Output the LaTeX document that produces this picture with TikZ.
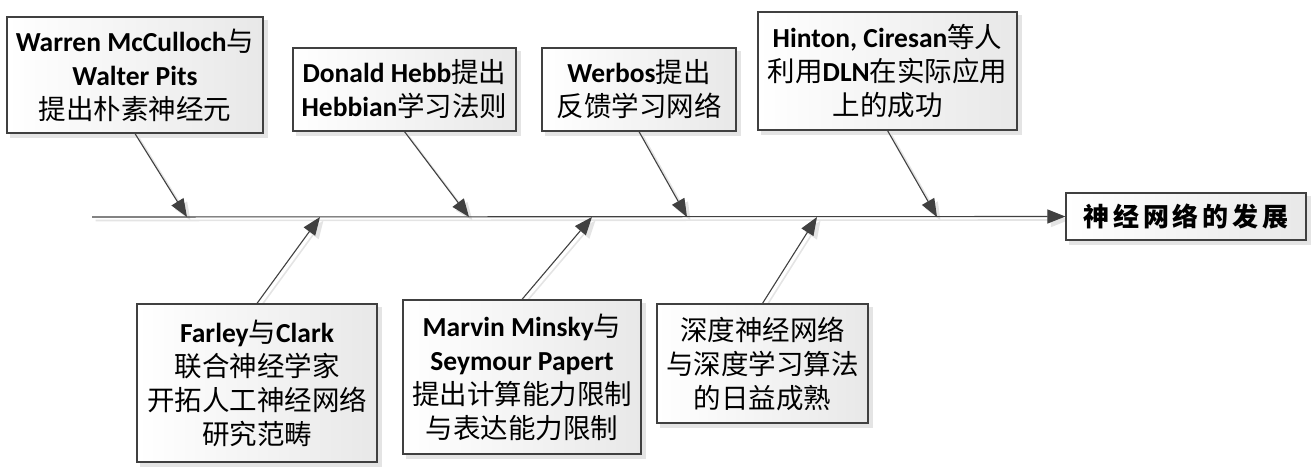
\documentclass[tikz,border=0pt]{standalone}
\usepackage{fontspec}
\setmainfont{Carlito}
\newfontfamily\cjk{Noto Sans CJK SC}
\usetikzlibrary{arrows.meta}
\definecolor{linec}{HTML}{404040}
\definecolor{shadowc}{HTML}{E4E4E4}
\newcommand\EN[1]{{\bfseries #1}}
\newcommand\ZH[1]{{\cjk #1}}
\pgfdeclarelayer{background}
\pgfsetlayers{background,main}
\tikzset{
  box/.style={draw=linec, line width=1.2pt, inner sep=0pt, align=center,
    font=\fontsize{27.5}{34}\selectfont, left color=white, right color=black!9, text=black},
  conn/.style={draw=linec, line width=1.1pt, -{Triangle[length=18pt,width=14pt]}},
  shconn/.style={draw=shadowc, line width=1.6pt, -{Triangle[length=18pt,width=14pt]}, transform canvas={xshift=3.5pt,yshift=-3.5pt}},
  shbox/.style={fill=shadowc, draw=none, transform canvas={xshift=4pt,yshift=-4pt}}
}
\begin{document}
\begin{tikzpicture}[x=1pt,y=-1pt]
\useasboundingbox (0,0) rectangle (1311,471);
% boxes
\node[box, minimum width=256pt, minimum height=116pt] (A) at (135,75)
  {\EN{Warren McCulloch}\ZH{与}\\\EN{Walter Pits}\\\ZH{提出朴素神经元}};
\node[box, minimum width=223pt, minimum height=83pt] (B) at (404.5,89.5)
  {\EN{Donald Hebb}\ZH{提出}\\\EN{Hebbian}\ZH{学习法则}};
\node[box, minimum width=194pt, minimum height=83pt] (C) at (639,89.5)
  {\EN{Werbos}\ZH{提出}\\\ZH{反馈学习网络}};
\node[box, minimum width=259pt, minimum height=118pt] (D) at (887.5,71)
  {\EN{Hinton, Ciresan}\ZH{等人}\\\ZH{利用}\EN{DLN}\ZH{在实际应用}\\\ZH{上的成功}};
\node[box, minimum width=240pt, minimum height=158pt] (E) at (257,383)
  {\EN{Farley}\ZH{与}\EN{Clark}\\\ZH{联合神经学家}\\\ZH{开拓人工神经网络}\\\ZH{研究范畴}};
\node[box, minimum width=238pt, minimum height=154pt] (F) at (522,377)
  {\EN{Marvin Minsky}\ZH{与}\\\EN{Seymour Papert}\\\ZH{提出计算能力限制}\\\ZH{与表达能力限制}};
\node[box, minimum width=211pt, minimum height=119pt] (G) at (762.5,363.5)
  {\ZH{深度神经网络}\\\ZH{与深度学习算法}\\\ZH{的日益成熟}};
\node[box, minimum width=240pt, minimum height=47pt, font=\fontsize{26}{30}\selectfont] (T) at (1186,216.5)
  {\cjk\bfseries\addfontfeature{LetterSpace=15}神经网络的发展};
% points on the spine
\coordinate (m0) at (92,217);
\coordinate (pA) at (187,217);
\coordinate (pB) at (469,217);
\coordinate (pC) at (687,217);
\coordinate (pD) at (937,217);
\coordinate (pE) at (320,217);
\coordinate (pF) at (592,217);
\coordinate (pG) at (817,217);
% shadows
\begin{pgfonlayer}{background}
\foreach \n in {A,B,C,D,E,F,G,T}{
  \fill[shbox] (\n.south west) rectangle (\n.north east);
}
\draw[shconn] (m0) -- (T.west);
\draw[shconn] (A.south) -- (pA);
\draw[shconn] (B.south) -- (pB);
\draw[shconn] (C.south) -- (pC);
\draw[shconn] (D.south) -- (pD);
\draw[shconn] (E.north) -- (pE);
\draw[shconn] (F.north) -- (pF);
\draw[shconn] (G.north) -- (pG);
\end{pgfonlayer}
% connectors
\draw[conn] (m0) -- (T.west);
\draw[conn] (A.south) -- (pA);
\draw[conn] (B.south) -- (pB);
\draw[conn] (C.south) -- (pC);
\draw[conn] (D.south) -- (pD);
\draw[conn] (E.north) -- (pE);
\draw[conn] (F.north) -- (pF);
\draw[conn] (G.north) -- (pG);
\end{tikzpicture}
\end{document}
